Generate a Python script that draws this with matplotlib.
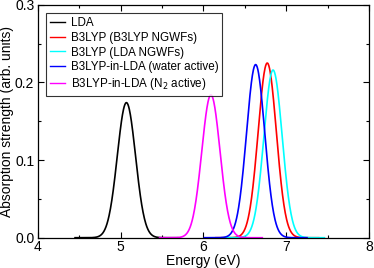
import numpy as np
import matplotlib
matplotlib.use("Agg")
import matplotlib.pyplot as plt
from matplotlib.ticker import MultipleLocator

plt.rcParams['font.family'] = ['Liberation Sans', 'DejaVu Sans']

labels = ["LDA", "B3LYP (B3LYP NGWFs)", "B3LYP (LDA NGWFs)",
          "B3LYP-in-LDA (water active)", r"B3LYP-in-LDA (N$_2$ active)"]
colors = ["black", "red", "cyan", "blue", "magenta"]
# peak energies (eV), peak heights, Gaussian broadening (eV)
centers = [5.07, 6.77, 6.84, 6.63, 6.09]
heights = [0.174, 0.225, 0.216, 0.223, 0.184]
sigmas = [0.11, 0.11, 0.11, 0.11, 0.11]
span = 0.62

FS = 10
LFS = 8.4

fig = plt.figure(figsize=(3.74, 2.68), dpi=100)
ax = fig.add_axes([0.101, 0.113, 0.886, 0.869])

for lab, c, e0, h, s in zip(labels, colors, centers, heights, sigmas):
    x = np.linspace(e0 - span, e0 + span, 300)
    y = h * np.exp(-0.5 * ((x - e0) / s) ** 2)
    ax.plot(x, y, color=c, lw=1.2, label=lab)

ax.set_xlim(4, 8)
ax.set_ylim(0, 0.3)
ax.xaxis.set_major_locator(MultipleLocator(1))
ax.xaxis.set_minor_locator(MultipleLocator(0.5))
ax.yaxis.set_major_locator(MultipleLocator(0.1))
ax.yaxis.set_minor_locator(MultipleLocator(0.05))
ax.yaxis.set_major_formatter(matplotlib.ticker.FormatStrFormatter('%.1f'))
ax.tick_params(which='both', direction='in', top=True, right=True, labelsize=FS)
ax.tick_params(axis='x', pad=1.5)
ax.tick_params(axis='y', pad=2.5)
ax.tick_params(which='major', length=4, width=0.8)
ax.tick_params(which='minor', length=2, width=0.8)
for sp in ax.spines.values():
    sp.set_linewidth(0.9)
ax.set_xlabel("Energy (eV)", fontsize=FS, labelpad=0)
ax.set_ylabel("Absorption strength (arb. units)", fontsize=FS, labelpad=0.5)

leg = ax.legend(loc='upper left', bbox_to_anchor=(0.025, 0.963), fontsize=LFS,
                frameon=True, fancybox=False, edgecolor='black', handlelength=1.35,
                handletextpad=0.45, labelspacing=0.24, borderpad=0.3, borderaxespad=0)
leg.get_frame().set_linewidth(0.8)
for ln in leg.get_lines():
    ln.set_linewidth(1.0)

fig.savefig("out.png", dpi=100)
